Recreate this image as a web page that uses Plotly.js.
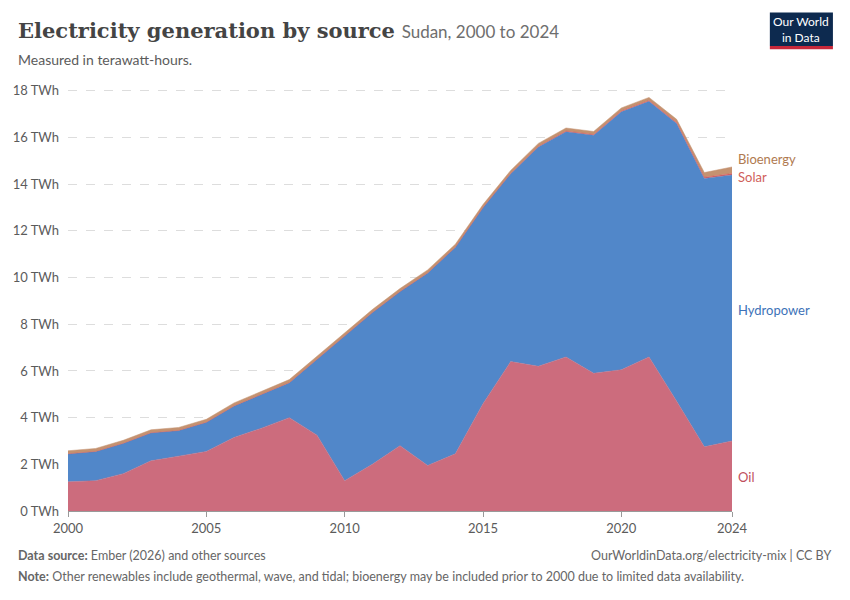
<!DOCTYPE html>
<html>
<head>
<meta charset="utf-8">
<script src="https://cdn.plot.ly/plotly-3.0.1.min.js"></script>
<style>body{margin:0;background:#fff}#chart{width:850px;height:600px}</style>
</head>
<body>
<div id="chart"></div>
<script>
let years = [];
for (let y = 2000; y <= 2024; y++) years.push(y);
let oil = [1.25, 1.3, 1.6, 2.15, 2.35, 2.55, 3.15, 3.55, 4.0, 3.25, 1.3, 2.0, 2.8, 1.95, 2.45, 4.6, 6.4, 6.2, 6.6, 5.9, 6.05, 6.6, 4.7, 2.75, 3.0];
let hydro = [1.2, 1.25, 1.3, 1.2, 1.1, 1.25, 1.35, 1.45, 1.5, 3.25, 6.2, 6.5, 6.6, 8.25, 8.85, 8.4, 8.05, 9.4, 9.65, 10.2, 11.05, 10.95, 11.9, 11.5, 11.4];
let solar = [0, 0, 0, 0, 0, 0, 0, 0, 0, 0, 0, 0, 0, 0, 0, 0, 0.01, 0.02, 0.03, 0.03, 0.04, 0.04, 0.05, 0.05, 0.06];
let bio = [0.13, 0.13, 0.13, 0.13, 0.13, 0.13, 0.13, 0.13, 0.13, 0.13, 0.13, 0.13, 0.13, 0.13, 0.13, 0.13, 0.13, 0.13, 0.13, 0.13, 0.13, 0.13, 0.13, 0.2, 0.28];

function area(name, vals, color) {
    return {
        type: 'scatter', mode: 'lines', x: years, y: vals, name: name,
        stackgroup: 'one', line: { width: 0.5, color: color }, fillcolor: color
    };
}
let data = [
    area('Oil', oil, 'rgba(204,108,125,1)'),
    area('Hydropower', hydro, 'rgba(81,135,201,1)'),
    area('Solar', solar, 'rgba(220,90,90,1)'),
    area('Bioenergy', bio, 'rgba(196,146,112,1)')
];

let layout = {
    width: 850, height: 600,
    margin: { t: 89, b: 89, l: 68, r: 118 },
    showlegend: false,
    paper_bgcolor: '#fff', plot_bgcolor: '#fff',
    font: { family: 'Lato, sans-serif', color: '#5b5b5b', size: 13 },
    xaxis: {
        range: [2000, 2024], tickvals: [2000, 2005, 2010, 2015, 2020, 2024],
        showgrid: false, zeroline: false, showline: true, linecolor: '#999',
        ticks: 'outside', ticklen: 5, tickcolor: '#999'
    },
    yaxis: {
        range: [0, 18.08], tickvals: [0, 2, 4, 6, 8, 10, 12, 14, 16, 18],
        ticktext: ['0 TWh', '2 TWh', '4 TWh', '6 TWh', '8 TWh', '10 TWh', '12 TWh', '14 TWh', '16 TWh', '18 TWh'],
        gridcolor: '#ddd', griddash: 'dash', zeroline: false, ticklabelstandoff: 8
    },
    annotations: [
        { xref: 'paper', yref: 'paper', x: -0.078, y: 1.138, xanchor: 'left', yanchor: 'middle', showarrow: false,
          text: '<span style="font-family:DejaVu Serif;font-size:21px;color:#444"><b>Electricity generation by source</b></span>  <span style="font-size:17px;color:#6e6e6e">Sudan, 2000 to 2024</span>' },
        { xref: 'paper', yref: 'paper', x: -0.078, y: 1.071, xanchor: 'left', yanchor: 'middle', showarrow: false,
          text: 'Measured in terawatt-hours.', font: { size: 14, color: '#5b5b5b' } },
        { xref: 'x', yref: 'y', x: 2024, y: 1.45, xanchor: 'left', xshift: 4, showarrow: false, text: 'Oil', font: { color: '#c0505d' } },
        { xref: 'x', yref: 'y', x: 2024, y: 8.6, xanchor: 'left', xshift: 4, showarrow: false, text: 'Hydropower', font: { color: '#3d72b8' } },
        { xref: 'x', yref: 'y', x: 2024, y: 14.3, xanchor: 'left', xshift: 4, showarrow: false, text: 'Solar', font: { color: '#d0605a' } },
        { xref: 'x', yref: 'y', x: 2024, y: 15.1, xanchor: 'left', xshift: 4, showarrow: false, text: 'Bioenergy', font: { color: '#b07a50' } },
        { xref: 'paper', yref: 'paper', x: -0.078, y: -0.105, xanchor: 'left', yanchor: 'middle', showarrow: false,
          text: '<b>Data source:</b> Ember (2026) and other sources', font: { size: 12.5, color: '#666' } },
        { xref: 'paper', yref: 'paper', x: 1.152, y: -0.105, xanchor: 'right', yanchor: 'middle', showarrow: false,
          text: 'OurWorldinData.org/electricity-mix | CC BY', font: { size: 12.5, color: '#666' } },
        { xref: 'paper', yref: 'paper', x: -0.078, y: -0.155, xanchor: 'left', yanchor: 'middle', showarrow: false,
          text: '<b>Note:</b> Other renewables include geothermal, wave, and tidal; bioenergy may be included prior to 2000 due to limited data availability.', font: { size: 12.5, color: '#666' } },
        { xref: 'paper', yref: 'paper', x: 1.104, y: 1.141, xanchor: 'center', yanchor: 'middle', showarrow: false,
          text: 'Our World<br>in Data', font: { size: 12, color: '#fff' } }
    ],
    shapes: [
        { type: 'rect', xref: 'paper', yref: 'paper', x0: 1.057, x1: 1.152, y0: 1.102, y1: 1.181, fillcolor: '#0d2a4f', line: { width: 0 } },
        { type: 'rect', xref: 'paper', yref: 'paper', x0: 1.057, x1: 1.152, y0: 1.094, y1: 1.102, fillcolor: '#c8283a', line: { width: 0 } }
    ]
};
Plotly.newPlot('chart', data, layout, { displayModeBar: false });
</script>
</body>
</html>
